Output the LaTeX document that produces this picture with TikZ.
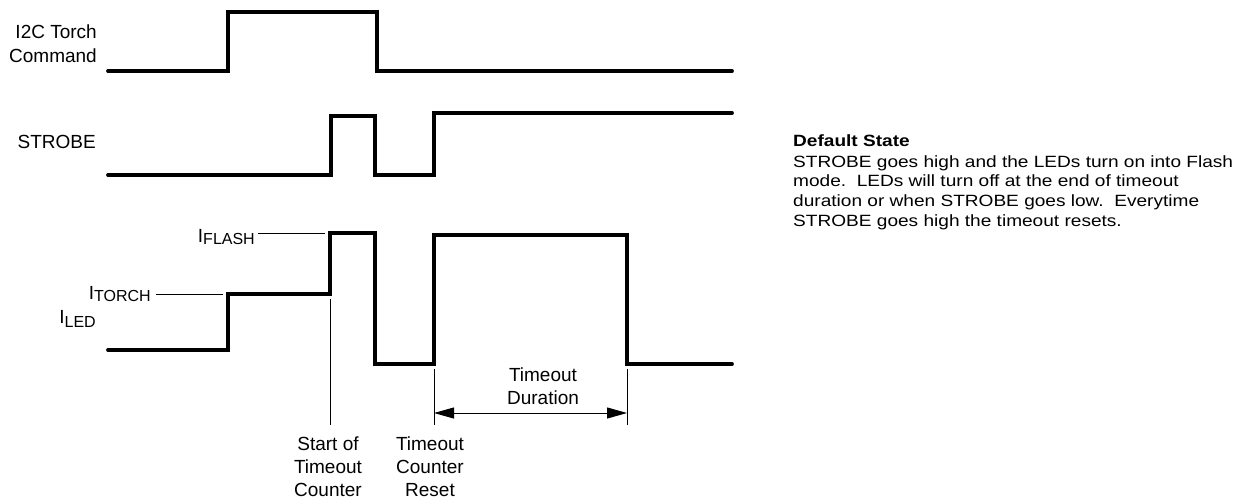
\documentclass[tikz,border=0pt]{standalone}
\usepackage{fontspec}
\setmainfont{Liberation Sans}
\newfontfamily\notefont[FakeStretch=1.17]{Liberation Sans}
\usetikzlibrary{arrows.meta, positioning}

% current symbol with a lowered subscript
\newcommand{\isub}[2]{I{\fontsize{16}{16}\selectfont\raisebox{#1}{#2}}}

\begin{document}
\begin{tikzpicture}[x=1pt, y=-1pt]
    % Define styles for the traces and the labels
    \tikzstyle{trace} = [line width=3.8pt, line cap=round, line join=miter]
    \tikzstyle{thin_line} = [line width=1pt]
    \tikzstyle{sig_lbl} = [inner sep=0, font=\fontsize{19}{23}\selectfont]
    \tikzstyle{note_lbl} = [inner sep=0, font=\notefont\fontsize{16.3}{19.8}\selectfont]

    \useasboundingbox (0,0) rectangle (1239,499);

    % I2C Torch Command trace
    \draw[trace] (108,71) -- (228,71) -- (228,12) -- (377,12) -- (377,71) -- (732,71);

    % STROBE trace
    \draw[trace] (108,175) -- (331,175) -- (331,116) -- (375,116) -- (375,175)
        -- (434,175) -- (434,113) -- (732,113);

    % LED current trace
    \draw[trace] (108,350) -- (228,350) -- (228,294) coordinate (torch_lvl)
        -- (330,294) coordinate (start_pt) -- (330,233) coordinate (flash_lvl)
        -- (375,233) -- (375,364) -- (434,364) coordinate (reset_pt) -- (434,235)
        -- (627,235) -- (627,364) coordinate (end_pt) -- (732,364);

    % Signal labels
    \node[sig_lbl, anchor=base east] (cmd_b) at (97,62.5) {Command};
    \node[sig_lbl, anchor=base east, yshift=24pt] (cmd_a) at (cmd_b.base east) {I2C Torch};
    \node[sig_lbl, anchor=base east] (strobe_lbl) at (96,148) {STROBE};

    % Current level labels
    \node[sig_lbl, anchor=base east] (iflash) at (255,242) {\isub{-2pt}{FLASH}};
    \node[sig_lbl, anchor=base east] (itorch) at (151,299.5) {\isub{-2pt}{TORCH}};
    \node[sig_lbl, anchor=base east] (iled) at (96,323.5) {\isub{-4pt}{LED}};

    % Leader lines
    \draw[thin_line] ([xshift=3pt]iflash.east |- flash_lvl) -- ([xshift=-5pt]flash_lvl);
    \draw[thin_line] ([xshift=5pt]itorch.east |- torch_lvl) -- ([xshift=-5pt]torch_lvl);

    % Timing markers
    \coordinate (start_bot) at (330,425);
    \coordinate (reset_bot) at (434,425);
    \coordinate (end_bot) at (627,425);
    \draw[thin_line] ([yshift=-5pt]start_pt) -- (start_bot);
    \draw[thin_line] ([yshift=-5pt]reset_pt) -- (reset_bot);
    \draw[thin_line] ([yshift=-5pt]end_pt) -- (end_bot);

    % Duration arrow
    \draw[thin_line, {Triangle[length=20pt,width=11pt]}-{Triangle[length=20pt,width=11pt]}]
        ([yshift=12pt]reset_bot) -- ([yshift=12pt]end_bot);
    \node[sig_lbl, align=center, anchor=north] (dur_lbl) at (543,368)
        {Timeout\\Duration};

    % Marker labels
    \node[sig_lbl, align=center, below=12pt of start_bot, xshift=-2pt] (start_lbl)
        {Start of\\Timeout\\Counter};
    \node[sig_lbl, align=center, below=12pt of reset_bot, xshift=-4pt] (reset_lbl)
        {Timeout\\Counter\\Reset};

    % Note on the right
    \node[note_lbl, anchor=base west, font=\notefont\bfseries\fontsize{16.3}{19.8}\selectfont]
        (note_head) at (793,146) {Default State};
    \node[note_lbl, anchor=north west, align=left] (note_body) at (793,155)
        {STROBE goes high and the LEDs turn on into Flash\\
         mode.\ \ LEDs will turn off at the end of timeout\\
         duration or when STROBE goes low.\ \ Everytime\\
         STROBE goes high the timeout resets.};

\end{tikzpicture}
\end{document}
